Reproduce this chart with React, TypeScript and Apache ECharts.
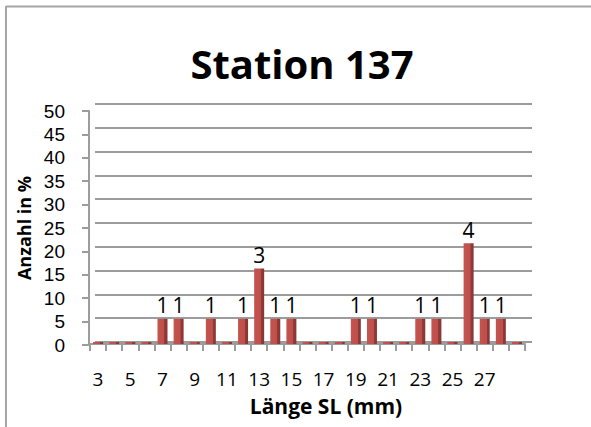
import React, { useEffect, useRef } from "react";
import * as echarts from "echarts";

// Shell length classes (mm) and number of individuals per class
const categories = [
  "3", "4", "5", "6", "7", "8", "9", "10", "11", "12", "13", "14", "15", "16",
  "17", "18", "19", "20", "21", "22", "23", "24", "25", "26", "27", "28", "29",
];
const counts = [
  0, 0, 0, 0, 1, 1, 0, 1, 0, 1, 3, 1, 1, 0,
  0, 0, 1, 1, 0, 0, 1, 1, 0, 4, 1, 1, 0,
];
const yMin = 0;
const yMax = 50;
const yStep = 5;

const chartTitle = "Station 137";
const xTitle = "Länge SL (mm)";
const yTitle = "Anzahl in %";

const FONT = "'Open Sans', 'Noto Sans', sans-serif";
const TICK_FONT = "'Liberation Sans', 'DejaVu Sans', sans-serif";
const GRAY = "#9c9c9c";

export default function App() {
  const ref = useRef<HTMLDivElement>(null);

  useEffect(() => {
    if (!ref.current) return;
    const chart = echarts.init(ref.current, null, { renderer: "svg" });

    const total = counts.reduce((a, b) => a + b, 0);
    const percent = counts.map((c) => (c / total) * 100);

    const barFill = new echarts.graphic.LinearGradient(0, 0, 1, 0, [
      { offset: 0, color: "#C5534F" },
      { offset: 0.68, color: "#BF4F4B" },
      { offset: 0.7, color: "#903C39" },
      { offset: 1, color: "#863634" },
    ]);

    chart.setOption({
      animation: false,
      backgroundColor: "#ffffff",
      textStyle: { fontFamily: FONT, color: "#000" },
      grid: [
        // back wall with the horizontal gridlines
        { left: 95, right: 59, top: 104, bottom: 85 },
        // floor and bars
        { left: 90, right: 66, top: 105, bottom: 83 },
        // front value axis
        { left: 89, right: 66, top: 111, bottom: 82 },
      ],
      xAxis: [
        { gridIndex: 0, type: "category", data: categories, show: false },
        {
          gridIndex: 1,
          type: "category",
          data: categories,
          axisLine: { lineStyle: { color: GRAY, width: 2 } },
          axisTick: {
            show: true,
            interval: 0,
            length: 7,
            lineStyle: { color: GRAY, width: 2 },
          },
          axisLabel: {
            interval: (i: number) => i % 2 === 0 && i < categories.length - 1,
            fontSize: 19,
            fontFamily: FONT,
            color: "#000",
            margin: 25,
          },
        },
        { gridIndex: 2, type: "category", data: categories, show: false },
      ],
      yAxis: [
        {
          gridIndex: 0,
          type: "value",
          min: yMin,
          max: yMax,
          interval: yStep,
          axisLine: { show: false },
          axisTick: { show: false },
          axisLabel: { show: false },
          splitLine: { lineStyle: { color: GRAY, width: 2 } },
        },
        {
          gridIndex: 1,
          type: "value",
          min: yMin,
          max: yMax,
          interval: yStep,
          show: false,
        },
        {
          gridIndex: 2,
          type: "value",
          min: yMin,
          max: yMax,
          interval: yStep,
          axisLine: { show: true, lineStyle: { color: GRAY, width: 2 } },
          axisTick: {
            show: true,
            length: 7,
            lineStyle: { color: GRAY, width: 2 },
          },
          splitLine: { show: false },
          axisLabel: {
            fontSize: 19,
            lineHeight: 20,
            fontFamily: TICK_FONT,
            color: "#000",
            margin: 24,
          },
          name: yTitle,
          nameLocation: "middle",
          nameGap: 55,
          nameRotate: 90,
          nameTextStyle: {
            fontSize: 18,
            fontWeight: "bold",
            fontFamily: FONT,
            color: "#000",
          },
        },
      ],
      series: [
        {
          type: "bar",
          xAxisIndex: 1,
          yAxisIndex: 1,
          data: percent,
          barWidth: 10,
          barMinHeight: 2,
          itemStyle: { color: barFill },
          label: {
            show: true,
            position: "top",
            distance: 3,
            fontSize: 21,
            fontFamily: FONT,
            color: "#000",
            formatter: (p: any) =>
              counts[p.dataIndex] > 0 ? String(counts[p.dataIndex]) : "",
          },
        },
      ],
      graphic: [
        {
          type: "line",
          shape: { x1: 6, y1: 6.5, x2: 591, y2: 6.5 },
          style: { stroke: "#a6a6a6", lineWidth: 2 },
        },
        {
          type: "line",
          shape: { x1: 6, y1: 6, x2: 6, y2: 427 },
          style: { stroke: "#a6a6a6", lineWidth: 2 },
        },
        {
          type: "text",
          x: 302,
          y: 63,
          style: {
            text: chartTitle,
            fontSize: 40,
            fontWeight: "bold",
            fontFamily: FONT,
            fill: "#000",
            textAlign: "center",
            textVerticalAlign: "middle",
          },
        },
        {
          type: "text",
          x: 326,
          y: 406,
          style: {
            text: xTitle,
            fontSize: 21,
            fontWeight: "bold",
            fontFamily: FONT,
            fill: "#000",
            textAlign: "center",
            textVerticalAlign: "middle",
          },
        },
      ],
    });

    return () => chart.dispose();
  }, []);

  return (
    <div
      ref={ref}
      style={{ position: "fixed", left: 0, top: 0, width: 591, height: 427 }}
    />
  );
}
